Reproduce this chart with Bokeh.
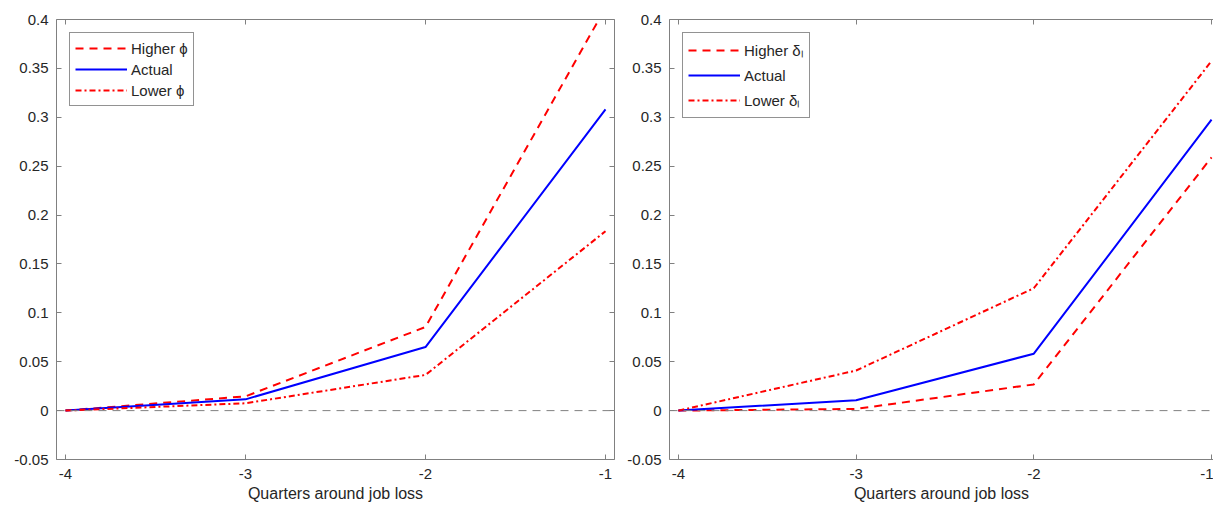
from bokeh.plotting import figure
from bokeh.models import Range1d, FixedTicker, LinearAxis, Span, Legend, LegendItem
from bokeh.layouts import row
from bokeh.embed import file_html
from bokeh.resources import INLINE

# ---- data ----
quarters = [-4, -3, -2, -1]
left_higher = [0.0, 0.0146, 0.0855, 0.412]
left_actual = [0.0, 0.0115, 0.0650, 0.308]
left_lower = [0.0, 0.0075, 0.0365, 0.1835]
right_higher = [0.0, 0.0017, 0.0268, 0.259]
right_actual = [0.0, 0.0106, 0.0582, 0.2975]
right_lower = [0.0, 0.0410, 0.1252, 0.3575]

left_labels = ["Higher \u03d5", "Actual", "Lower \u03d5"]
right_labels = ["Higher \u03b4\u2097", "Actual", "Lower \u03b4\u2097"]

x_ticks = [-4, -3, -2, -1]
x_tick_labels = ["-4", "-3", "-2", "-1"]
y_ticks = [-0.05, 0.0, 0.05, 0.1, 0.15, 0.2, 0.25, 0.3, 0.35, 0.4]
y_tick_labels = ["-0.05", "0", "0.05", "0.1", "0.15", "0.2", "0.25", "0.3", "0.35", "0.4"]
x_label = "Quarters around job loss"

FONT = "Liberation Sans"
AXC = "#808080"
TXC = "#262626"
H = 505
TOP = 19
Y0, Y1 = -0.05, 0.4


def style_axis(ax, ticks, labels, show_labels=True):
    ax.ticker = FixedTicker(ticks=ticks)
    ax.major_label_overrides = {t: l for t, l in zip(ticks, labels)}
    ax.major_tick_in = 5
    ax.major_tick_out = 0
    ax.minor_tick_in = 0
    ax.minor_tick_out = 0
    ax.axis_line_color = AXC
    ax.major_tick_line_color = AXC
    ax.major_label_text_font = FONT
    ax.major_label_text_color = TXC
    if show_labels:
        ax.major_label_text_font_size = "15px"
    else:
        ax.major_label_text_font_size = "0px"
        ax.major_label_standoff = 0


def make_panel(width, x_start, x_end, border_left, border_right, series, labels, label_h, right_axis):
    p = figure(width=width, height=H, output_backend="svg", toolbar_location=None,
               x_range=Range1d(x_start, x_end), y_range=Range1d(Y0, Y1),
               min_border_left=border_left, min_border_right=border_right,
               min_border_top=TOP, min_border_bottom=H - TOP - 440)
    p.outline_line_color = None
    p.background_fill_color = "white"
    p.border_fill_color = "white"
    p.xgrid.visible = False
    p.ygrid.visible = False

    style_axis(p.xaxis[0], x_ticks, x_tick_labels)
    style_axis(p.yaxis[0], y_ticks, y_tick_labels)
    p.xaxis[0].major_label_standoff = 9
    p.yaxis[0].major_label_standoff = 8
    p.xaxis[0].axis_label = x_label
    p.xaxis[0].axis_label_text_font = FONT
    p.xaxis[0].axis_label_text_font_size = "16px"
    p.xaxis[0].axis_label_text_font_style = "normal"
    p.xaxis[0].axis_label_text_color = TXC
    p.xaxis[0].axis_label_standoff = 3

    top = LinearAxis()
    style_axis(top, x_ticks, ["" for _ in x_ticks], show_labels=False)
    p.add_layout(top, "above")
    if right_axis:
        rt = LinearAxis()
        style_axis(rt, y_ticks, ["" for _ in y_ticks], show_labels=False)
        p.add_layout(rt, "right")

    p.add_layout(Span(location=0, dimension="width", line_color=AXC,
                      line_width=1, line_dash="8 6"))

    hi, ac, lo = series
    r1 = p.line(quarters, hi, line_color="#ff0000", line_width=2, line_dash="8 6")
    r2 = p.line(quarters, ac, line_color="#0000ff", line_width=2)
    r3 = p.line(quarters, lo, line_color="#ff0000", line_width=2, line_dash="6 3 2 3")

    leg = Legend(items=[LegendItem(label=labels[0], renderers=[r1]),
                        LegendItem(label=labels[1], renderers=[r2]),
                        LegendItem(label=labels[2], renderers=[r3])],
                 location="top_left")
    leg.margin = 13
    leg.padding = 5
    leg.spacing = 1
    leg.glyph_width = 52
    leg.glyph_height = label_h
    leg.label_height = label_h
    leg.label_standoff = 4
    leg.label_text_font = FONT
    leg.label_text_font_size = "15px"
    leg.label_text_color = TXC
    leg.border_line_color = TXC
    leg.border_line_width = 1
    leg.background_fill_color = "white"
    leg.background_fill_alpha = 1.0
    p.add_layout(leg, "center")
    return p


p1 = make_panel(624, -4.05, -0.95, 56, 10, (left_higher, left_actual, left_lower),
                left_labels, 20, True)
p2 = make_panel(589, -4.05, -0.989, 45, 0, (right_higher, right_actual, right_lower),
                right_labels, 24, False)

layout = row(p1, p2)
open("out.html", "w").write(file_html(layout, INLINE))
